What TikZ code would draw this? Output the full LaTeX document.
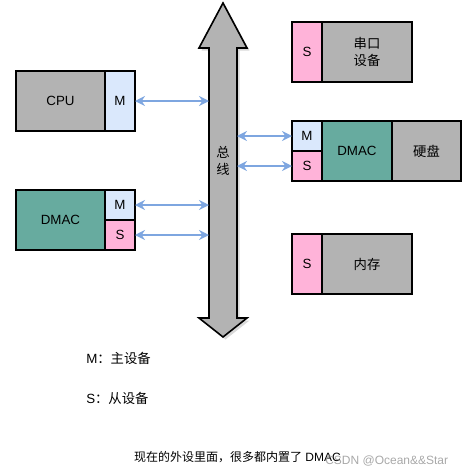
\documentclass[tikz,border=0pt]{standalone}
\usepackage{fontspec}
\setmainfont{Liberation Sans}
\newfontfamily\cjk{Noto Sans CJK SC}
\usetikzlibrary{arrows.meta}
\definecolor{boxgray}{HTML}{B3B3B3}
\definecolor{dmacgreen}{HTML}{67AB9F}
\definecolor{mblue}{HTML}{DAE8FC}
\definecolor{spink}{HTML}{FFB3D9}
\definecolor{arrowblue}{HTML}{7EA6E0}
\begin{document}
\begin{tikzpicture}[x=0.75pt,y=-0.75pt,
  box/.style={draw=black, line width=1.2pt, inner sep=0pt, outer sep=0pt,
    font=\fontsize{10}{12}\selectfont, align=center},
  bw/.style={minimum width=#1*0.75pt},
  bh/.style={minimum height=#1*0.75pt},
  conn/.style={draw=arrowblue, line width=1.1pt,
    {Stealth[length=7.5pt,width=7.5pt]}-{Stealth[length=7.5pt,width=7.5pt]}},
  lbl/.style={inner sep=0pt, font=\fontsize{10}{12}\selectfont, anchor=west}
]
\useasboundingbox (0,0) rectangle (465,476);

% bus (double arrow)
\fill[black!25, opacity=0.6, shift={(2.5,2.5)}]
  (209,318) -- (209,48) -- (199,48) -- (223,3) -- (247,48) -- (237,48)
  -- (237,318) -- (247,318) -- (223,337) -- (199,318) -- cycle;
\draw[line width=1.2pt, fill=boxgray, line join=miter]
  (209,318) -- (209,48) -- (199,48) -- (223,3) -- (247,48) -- (237,48)
  -- (237,318) -- (247,318) -- (223,337) -- (199,318) -- cycle;
\node[inner sep=0pt, outer sep=0pt, bw=28, bh=270] (bus) at (223,183) {};
\node[inner sep=0pt, align=center, font=\fontsize{10}{13}\selectfont\cjk] (busLabel) at (223,161) {总\\线};

% CPU
\node[box, fill=boxgray, bw=89, bh=60] (cpu) at (60.5,101) {CPU};
\node[box, fill=mblue, bw=30, bh=60] (cpuM) at (120,101) {M};

% DMAC left
\node[box, fill=dmacgreen, bw=89, bh=60] (dmacL) at (60.5,220) {DMAC};
\node[box, fill=mblue, bw=30, bh=30] (dmacLM) at (120,205) {M};
\node[box, fill=spink, bw=30, bh=30] (dmacLS) at (120,235) {S};

% serial device
\node[box, fill=spink, bw=30, bh=60] (serS) at (307,52) {S};
\node[box, fill=boxgray, bw=90, bh=60, font=\fontsize{10}{13}\selectfont\cjk] (ser) at (367,52) {串口\\设备};

% disk with DMAC
\node[box, fill=mblue, bw=30, bh=30] (diskM) at (307,136) {M};
\node[box, fill=spink, bw=30, bh=30] (diskS) at (307,166) {S};
\node[box, fill=dmacgreen, bw=70, bh=60] (dmacR) at (357,151) {DMAC};
\node[box, fill=boxgray, bw=69, bh=60, font=\fontsize{10}{12}\selectfont\cjk] (disk) at (426.5,151) {硬盘};

% memory
\node[box, fill=spink, bw=30, bh=60] (memS) at (307,264) {S};
\node[box, fill=boxgray, bw=90, bh=60, font=\fontsize{10}{12}\selectfont\cjk] (mem) at (367,264) {内存};

% connectors
\draw[conn] (cpuM.east) -- (cpuM.east -| bus.west);
\draw[conn] (dmacLM.east) -- (dmacLM.east -| bus.west);
\draw[conn] (dmacLS.east) -- (dmacLS.east -| bus.west);
\draw[conn] (diskM.west -| bus.east) -- (diskM.west);
\draw[conn] (diskS.west -| bus.east) -- (diskS.west);

% legend
\node[lbl] (legM) at (86,358) {M{\cjk ：主设备}};
\node[lbl] (legS) at (86,398) {S{\cjk ：从设备}};

% footer
\node[inner sep=0pt, font=\fontsize{9}{10}\selectfont] (footer) at (237.5,457) {{\cjk 现在的外设里面，很多都内置了} DMAC};
\node[inner sep=0pt, anchor=west, font=\fontsize{9}{10}\selectfont, text=black!40, opacity=0.85] (wm) at (325,461) {CSDN @Ocean\&\&Star};
\end{tikzpicture}
\end{document}
